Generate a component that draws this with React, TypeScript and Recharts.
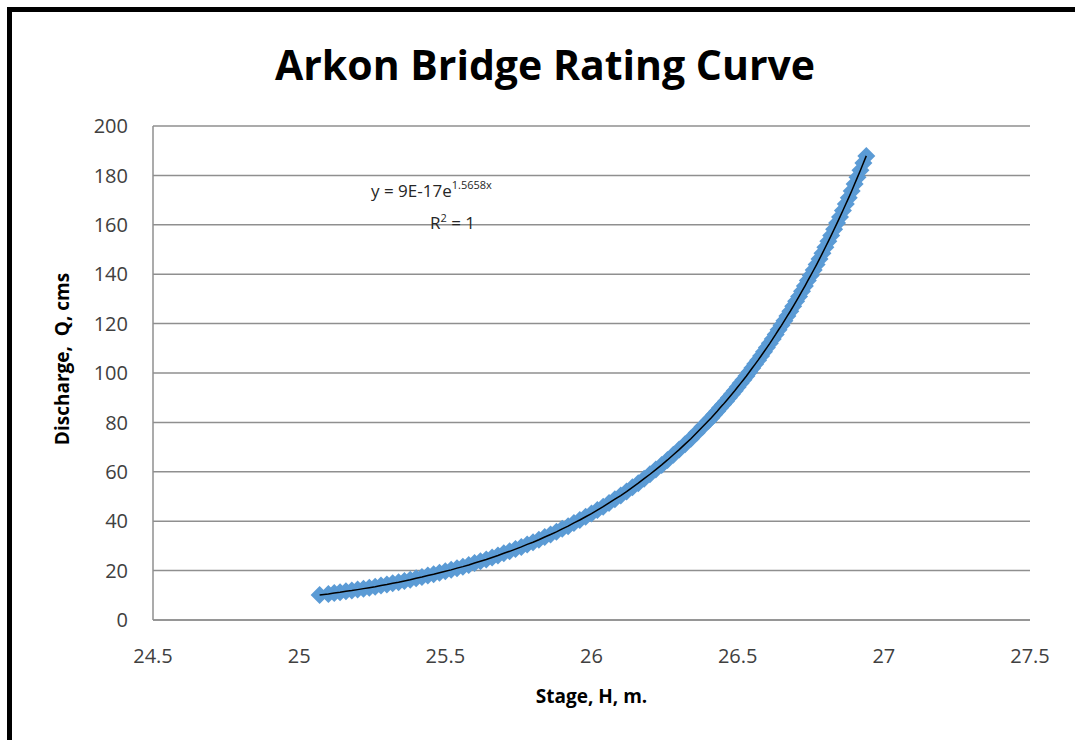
import { ScatterChart, Scatter, XAxis, YAxis, CartesianGrid } from 'recharts';

// Stage H (m)
const stageH = [
  25.07, 25.1, 25.12, 25.14, 25.16, 25.18, 25.2, 25.22, 25.24, 25.26, 25.28, 25.3,
  25.32, 25.34, 25.36, 25.38, 25.4, 25.42, 25.44, 25.46, 25.48, 25.5, 25.52, 25.54,
  25.56, 25.58, 25.6, 25.62, 25.64, 25.66, 25.68, 25.7, 25.72, 25.74, 25.76, 25.78,
  25.8, 25.82, 25.84, 25.86, 25.88, 25.9, 25.92, 25.94, 25.96, 25.98, 26.0, 26.02,
  26.04, 26.06, 26.08, 26.1, 26.12, 26.14, 26.16, 26.18, 26.2, 26.22, 26.24, 26.26,
  26.28, 26.3, 26.32, 26.34, 26.36, 26.38, 26.4, 26.41, 26.42, 26.43, 26.44, 26.45,
  26.46, 26.47, 26.48, 26.49, 26.5, 26.51, 26.52, 26.53, 26.54, 26.55, 26.56, 26.57,
  26.58, 26.59, 26.6, 26.61, 26.62, 26.63, 26.64, 26.65, 26.66, 26.67, 26.68, 26.69,
  26.7, 26.71, 26.72, 26.73, 26.74, 26.75, 26.76, 26.77, 26.78, 26.79, 26.8, 26.81,
  26.82, 26.83, 26.84, 26.85, 26.86, 26.87, 26.88, 26.89, 26.9, 26.91, 26.92, 26.93,
  26.94,
];

// Discharge Q (cms)
const dischargeQ = [
  10.1, 10.5, 10.9, 11.2, 11.6, 11.9, 12.3, 12.7, 13.1, 13.5, 14.0, 14.4,
  14.9, 15.3, 15.8, 16.3, 16.9, 17.4, 18.0, 18.5, 19.1, 19.7, 20.3, 21.0,
  21.6, 22.3, 23.1, 23.8, 24.5, 25.3, 26.1, 27.0, 27.8, 28.7, 29.6, 30.6,
  31.5, 32.5, 33.6, 34.6, 35.7, 36.9, 38.0, 39.3, 40.5, 41.8, 43.1, 44.5,
  45.9, 47.4, 48.9, 50.4, 52.0, 53.7, 55.4, 57.2, 59.0, 60.9, 62.8, 64.8,
  66.9, 69.0, 71.2, 73.4, 75.8, 78.2, 80.7, 81.9, 83.2, 84.5, 85.9, 87.2,
  88.6, 90.0, 91.4, 92.8, 94.3, 95.8, 97.3, 98.8, 100.4, 102.0, 103.6, 105.2,
  106.9, 108.6, 110.3, 112.0, 113.8, 115.6, 117.5, 119.3, 121.2, 123.1, 125.0, 127.0,
  129.0, 131.0, 133.1, 135.2, 137.4, 139.5, 141.7, 143.9, 146.2, 148.5, 150.9, 153.3,
  155.7, 158.2, 160.7, 163.2, 165.8, 168.4, 171.0, 173.7, 176.5, 179.3, 182.1, 185.0,
  187.9,
];

const xTicks = [24.5, 25, 25.5, 26, 26.5, 27, 27.5];
const yTicks = [0, 20, 40, 60, 80, 100, 120, 140, 160, 180, 200];

const data = stageH.map((h, i) => ({ h, q: dischargeQ[i] }));

const FONT = '"Open Sans", "Liberation Sans", sans-serif';

const Diamond = (props: any) => {
  const { cx, cy } = props;
  const r = 9;
  return (
    <polygon
      points={`${cx},${cy - r} ${cx + r},${cy} ${cx},${cy + r} ${cx - r},${cy}`}
      fill="#5B9BD5"
    />
  );
};

const App = () => {
  return (
    <div style={{ position: 'relative', width: 1075, height: 740, background: '#fff' }}>
      <style>{`body{margin:0}`}</style>
      <ScatterChart
        width={1075}
        height={740}
        margin={{ top: 126, right: 45, bottom: 20, left: 0 }}
      >
        <CartesianGrid vertical={false} stroke="#8f8f8f" strokeWidth={1.5} />
        <XAxis
          type="number"
          dataKey="h"
          domain={[24.5, 27.5]}
          ticks={xTicks}
          height={100}
          tickLine={false}
          tickSize={0}
          tickMargin={29}
          axisLine={{ stroke: '#8f8f8f', strokeWidth: 1.5 }}
          tick={{ fill: '#404040', fontSize: 20, fontFamily: FONT }}
          label={{
            value: 'Stage, H, m.',
            position: 'insideBottom',
            offset: 17,
            fill: '#000',
            fontSize: 19,
            fontWeight: 700,
            fontFamily: FONT,
          }}
        />
        <YAxis
          type="number"
          dataKey="q"
          domain={[0, 200]}
          ticks={yTicks}
          width={153}
          tickLine={false}
          tickSize={0}
          tickMargin={25}
          axisLine={{ stroke: '#8f8f8f', strokeWidth: 1.5 }}
          tick={{ fill: '#404040', fontSize: 20, fontFamily: FONT }}
          label={{
            value: 'Discharge,\u00a0 Q, cms',
            angle: -90,
            position: 'center',
            dx: -14,
            dy: -14,
            fill: '#000',
            fontSize: 19,
            fontWeight: 700,
            fontFamily: FONT,
          }}
        />
        <Scatter data={data} shape={Diamond} isAnimationActive={false} />
        <Scatter
          data={data}
          line={{ stroke: '#000', strokeWidth: 1.5 }}
          shape={() => <g />}
          isAnimationActive={false}
        />
      </ScatterChart>
      <svg
        width={1075}
        height={740}
        style={{ position: 'absolute', left: 0, top: 0, pointerEvents: 'none' }}
      >
        <rect x={7} y={7} width={1068} height={5} fill="#000" />
        <rect x={7} y={7} width={5} height={733} fill="#000" />
        <text
          x={545}
          y={80}
          textAnchor="middle"
          fontSize={41}
          fontWeight={700}
          fontFamily={FONT}
          fill="#000"
        >
          Arkon Bridge Rating Curve
        </text>
        <text x={371} y={197} fontSize={17} fontFamily={FONT} fill="#262626">
          y = 9E-17e
          <tspan fontSize={11} dy={-8}>1.5658x</tspan>
        </text>
        <text x={430} y={229} fontSize={17} fontFamily={FONT} fill="#262626">
          R<tspan fontSize={11} dy={-7}>2</tspan>
          <tspan dy={7}> = 1</tspan>
        </text>
      </svg>
    </div>
  );
};

export default App;
